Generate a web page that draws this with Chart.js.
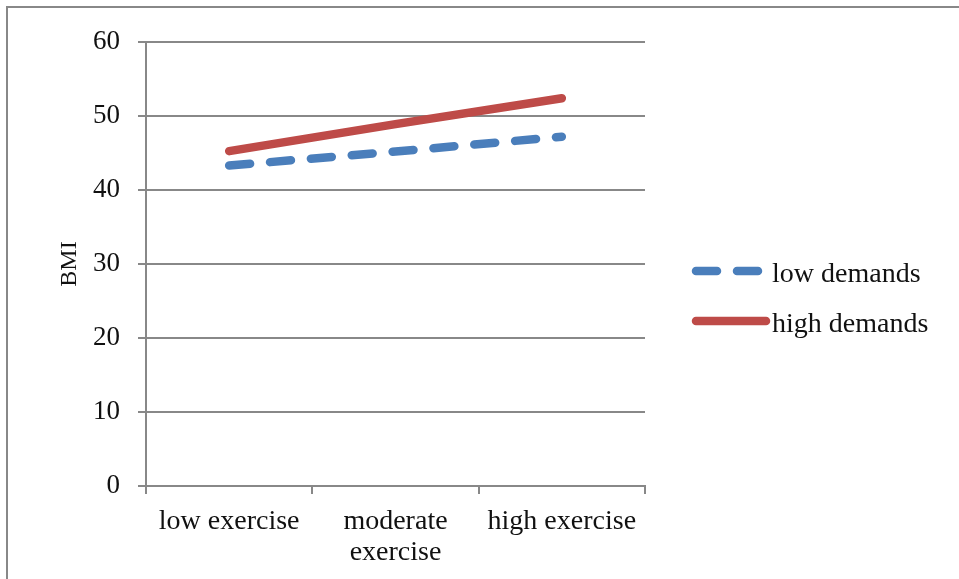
<!DOCTYPE html>
<html><head><meta charset="utf-8">
<script src="https://cdn.jsdelivr.net/npm/chart.js@4.4.0/dist/chart.umd.min.js"></script>
<style>
html,body{margin:0;padding:0;background:#fff;overflow:hidden}
#wrap{position:relative;width:959px;height:579px}
#frame{position:absolute;left:6px;top:6px;width:1200px;height:1200px;border:2px solid #888;box-sizing:border-box;pointer-events:none}
canvas{position:absolute;left:0;top:0}
</style></head><body>
<div id="wrap"><div id="frame"></div><canvas id="c" width="959" height="579"></canvas></div>
<script>
const categories = [['low exercise'], ['moderate', 'exercise'], ['high exercise']];
const lowDemands = [43.3, 45.2, 47.2];
const highDemands = [45.25, 48.9, 52.4];
const seriesNames = ['low demands', 'high demands'];
const yMin = 0, yMax = 60, yStep = 10;
const yTitle = 'BMI';

const FONT = "'Liberation Serif', 'Times New Roman', serif";
const GRAY = '#888888';
const TEXT = '#111111';

const legendPlugin = {
  id: 'sideLegend',
  afterDraw(chart) {
    const ctx = chart.ctx;
    const rows = [271, 321];
    chart.data.datasets.forEach((ds, i) => {
      const y = rows[i];
      ctx.save();
      ctx.strokeStyle = ds.borderColor;
      ctx.lineWidth = ds.borderWidth;
      ctx.lineCap = 'round';
      ctx.setLineDash(ds.borderDash || []);
      ctx.beginPath();
      ctx.moveTo(696, y);
      ctx.lineTo(766, y);
      ctx.stroke();
      ctx.restore();
      ctx.save();
      ctx.fillStyle = TEXT;
      ctx.font = "28px " + FONT;
      ctx.textBaseline = 'alphabetic';
      ctx.textAlign = 'left';
      ctx.fillText(ds.label, 772, y + 11);
      ctx.restore();
    });
  }
};

new Chart(document.getElementById('c'), {
  type: 'line',
  data: {
    labels: categories,
    datasets: [
      {label: seriesNames[0], data: lowDemands, borderColor: '#4a7ebb', borderWidth: 8.5,
       borderDash: [21, 20], borderCapStyle: 'round', pointRadius: 0, tension: 0, fill: false},
      {label: seriesNames[1], data: highDemands, borderColor: '#be4b48', borderWidth: 8.5,
       borderCapStyle: 'round', pointRadius: 0, tension: 0, fill: false}
    ]
  },
  options: {
    responsive: false,
    animation: false,
    devicePixelRatio: 1,
    layout: {padding: {left: 0, top: 42, right: 314, bottom: 0}},
    plugins: {legend: {display: false}, tooltip: {enabled: false}},
    scales: {
      x: {
        type: 'category',
        offset: true,
        grid: {offset: true, drawOnChartArea: false, drawTicks: true, tickLength: 8, color: GRAY, lineWidth: 2},
        border: {display: true, color: GRAY, width: 2},
        ticks: {font: {family: FONT, size: 28, lineHeight: 1.12}, color: TEXT, padding: 12, maxRotation: 0, autoSkip: false},
        afterFit(s) { s.height = 93; }
      },
      y: {
        min: yMin, max: yMax,
        ticks: {stepSize: yStep, font: {family: FONT, size: 27}, color: TEXT, padding: 18},
        grid: {color: GRAY, lineWidth: 2, tickLength: 8, drawTicks: true},
        border: {display: true, color: GRAY, width: 2},
        title: {display: true, text: yTitle, font: {family: FONT, size: 24}, color: TEXT, padding: {top: 55, bottom: 0}},
        afterFit(s) { s.width = 146; }
      }
    }
  },
  plugins: [legendPlugin]
});
</script>
</body></html>
